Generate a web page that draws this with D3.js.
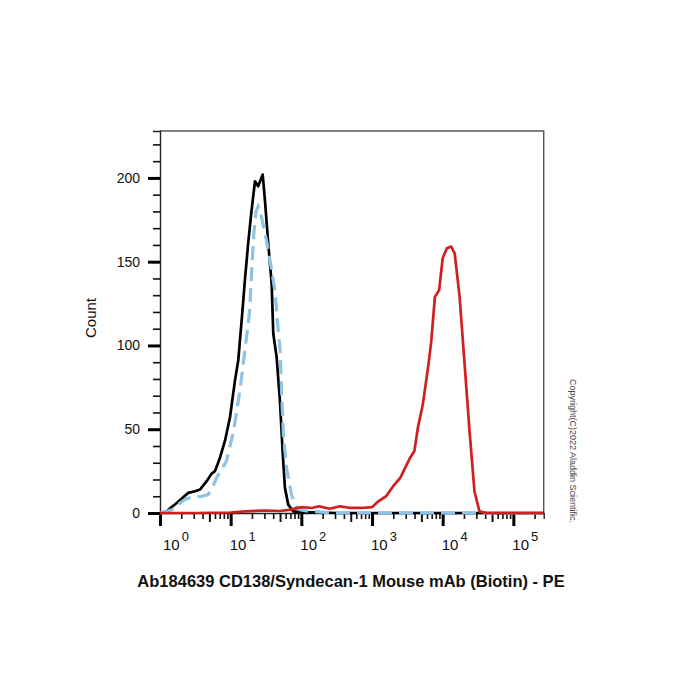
<!DOCTYPE html>
<html lang="en">
<head>
<meta charset="UTF-8">
<title>CD138 flow histogram</title>
<style>
    body { margin: 0; background: #ffffff; }
    svg text { font-family: "Liberation Sans", Arial, sans-serif; fill: #111; }
</style>
</head>
<body>
<div id="content"></div>
<script src="https://d3js.org/d3.v7.min.js"></script>
<script>
    // histogram readings: [intensity, count]
    var stainedData = [
        [1, 0], [3.2, 0], [10, 0.3], [16, 1], [32, 1.5], [50, 1.2], [71, 2], [100, 3.5],
        [141, 3], [178, 4], [251, 2.5], [355, 4], [501, 3], [708, 3], [1000, 3.5],
        [1230, 7], [1585, 10], [1995, 16], [2512, 21], [3467, 33], [3981, 37], [4467, 51],
        [5248, 65], [6310, 89], [6918, 103], [7762, 129], [8913, 133], [10000, 152],
        [11482, 158], [13183, 159], [14791, 155], [17378, 129], [20417, 89], [23988, 49],
        [28184, 13], [33113, 1], [41687, 0], [100000, 0], [269000, 0]
    ];
    var isotypeData = [
        [1, 0], [1.24, 1], [1.72, 6], [2.51, 12], [3.13, 13], [3.68, 14], [4.57, 19],
        [5.38, 23.5], [6.0, 25], [7.06, 33], [8.3, 43], [9.77, 57], [11.5, 79], [12.8, 91],
        [14.3, 115], [15.1, 127], [15.9, 139], [17.7, 161], [19.8, 181], [22.1, 198],
        [24.5, 195], [28.4, 202], [30.5, 187], [34.0, 161], [38.0, 137], [40.1, 107],
        [44.7, 93], [49.8, 67], [54.3, 37], [58.6, 15], [65.3, 5], [76.7, 1], [95.5, 0.5],
        [200, 0.3], [316, 0], [269000, 0]
    ];
    var blankData = [
        [1, 0], [1.26, 1], [1.48, 2], [1.78, 5], [2.24, 8], [2.82, 9.5], [3.98, 10],
        [4.79, 11], [5.62, 16], [6.31, 21], [8.71, 31], [11.0, 49], [13.5, 73], [17.0, 107],
        [18.6, 121], [20.0, 148], [21.4, 168], [22.9, 180], [24.5, 183], [26.3, 180],
        [29.5, 170], [33.1, 160], [38.0, 145], [42.7, 131], [45.7, 115], [50.1, 97],
        [52.5, 73], [55.6, 47], [61.7, 27], [72.4, 11], [85.1, 4], [95.5, 2], [126, 1],
        [200, 0.5], [316, 0], [269000, 0]
    ];

    var decades = [1, 10, 100, 1000, 10000, 100000];
    var decadeExponents = ["0", "1", "2", "3", "4", "5"];
    var countMajor = [0, 50, 100, 150, 200];
    var countMinor = [10, 20, 30, 40, 60, 70, 80, 90, 110, 120, 130, 140, 160, 170, 180, 190, 210, 220];

    var titleText = "Ab184639 CD138/Syndecan-1 Mouse mAb (Biotin) - PE";
    var yTitle = "Count";
    var copyrightText = "Copyright(C)2022 Aladdin Scientific.";

    var width = 700, height = 700;
    var plotLeft = 160, plotRight = 543.7, plotTop = 131, plotBottom = 513;

    var svg = d3.select("#content")
        .append("svg")
        .attr("width", width)
        .attr("height", height)
        .style("background-color", "#ffffff");

    var x = d3.scaleLog().domain([1, 269000]).range([plotLeft, plotRight]);
    var y = d3.scaleLinear().domain([0, 228]).range([plotBottom, plotTop]);

    // frame
    svg.append("path")
        .attr("d", "M" + plotLeft + "," + plotTop + "H" + plotRight + "V" + plotBottom)
        .attr("fill", "none")
        .attr("stroke", "#555")
        .attr("stroke-width", 1.4);

    // y axis: minor then major
    var yMinorG = svg.append("g")
        .attr("transform", "translate(" + plotLeft + ",0)")
        .call(d3.axisLeft(y).tickValues(countMinor).tickSize(7).tickFormat(""));
    yMinorG.selectAll(".tick line").attr("stroke", "#111").attr("stroke-width", 1.6);
    yMinorG.select(".domain").attr("stroke", "#222").attr("stroke-width", 1.4);

    var yMajorG = svg.append("g")
        .attr("transform", "translate(" + plotLeft + ",0)")
        .call(d3.axisLeft(y).tickValues(countMajor).tickSize(12).tickPadding(8));
    yMajorG.select(".domain").remove();
    yMajorG.selectAll(".tick line").attr("stroke", "#000").attr("stroke-width", 3);
    yMajorG.selectAll(".tick text").style("font-size", "14px").attr("fill", "#111");

    // x axis ticks
    var allTicks = x.ticks();
    var mantissa = function (d) {
        return Math.round(d / Math.pow(10, Math.floor(Math.log10(d) + 1e-9)));
    };
    var minorTicks = allTicks.filter(function (d) { return mantissa(d) !== 1 && mantissa(d) !== 5; });
    var fiveTicks = allTicks.filter(function (d) { return mantissa(d) === 5; });

    var xMinorG = svg.append("g")
        .attr("transform", "translate(0," + plotBottom + ")")
        .call(d3.axisBottom(x).tickValues(minorTicks).tickSize(6).tickFormat(""));
    xMinorG.selectAll(".tick line").attr("stroke", "#111").attr("stroke-width", 1.6);
    xMinorG.select(".domain").attr("stroke", "#222").attr("stroke-width", 1.4);

    var xFiveG = svg.append("g")
        .attr("transform", "translate(0," + plotBottom + ")")
        .call(d3.axisBottom(x).tickValues(fiveTicks).tickSize(9).tickFormat(""));
    xFiveG.select(".domain").remove();
    xFiveG.selectAll(".tick line").attr("stroke", "#111").attr("stroke-width", 2);

    var xMajorG = svg.append("g")
        .attr("transform", "translate(0," + plotBottom + ")")
        .call(d3.axisBottom(x).tickValues(decades).tickSize(13).tickFormat(""));
    xMajorG.select(".domain").remove();
    xMajorG.selectAll(".tick line").attr("stroke", "#000").attr("stroke-width", 3);

    // decade labels with superscripts
    var labels = svg.append("g").selectAll("text")
        .data(decades)
        .enter()
        .append("text")
        .attr("x", function (d) { return Math.max(x(d) + 12, 176); })
        .attr("y", 550)
        .attr("text-anchor", "middle")
        .style("font-size", "15px");
    labels.append("tspan").text("10");
    labels.append("tspan")
        .attr("dx", 2)
        .attr("dy", -9)
        .style("font-size", "13px")
        .text(function (d, i) { return decadeExponents[i]; });

    // histogram lines
    var line = d3.line()
        .x(function (d) { return x(d[0]); })
        .y(function (d) { return y(d[1]); });

    svg.append("path")
        .datum(isotypeData)
        .attr("d", line)
        .attr("fill", "none")
        .attr("stroke", "#000")
        .attr("stroke-width", 2.7)
        .attr("stroke-linejoin", "round");

    svg.append("path")
        .datum(blankData)
        .attr("d", line)
        .attr("fill", "none")
        .attr("stroke", "#8ec3e6")
        .attr("stroke-width", 3.2)
        .attr("stroke-dasharray", "14,7");

    svg.append("path")
        .datum(stainedData)
        .attr("d", line)
        .attr("fill", "none")
        .attr("stroke", "#cf1f1f")
        .attr("stroke-width", 2.7)
        .attr("stroke-linejoin", "round");

    // texts
    svg.append("text")
        .attr("x", 351)
        .attr("y", 587)
        .attr("text-anchor", "middle")
        .style("font-size", "16.5px")
        .style("font-weight", "bold")
        .text(titleText);

    svg.append("text")
        .attr("transform", "translate(96,318) rotate(-90)")
        .attr("text-anchor", "middle")
        .style("font-size", "15px")
        .text(yTitle);

    svg.append("text")
        .attr("transform", "translate(570,451) rotate(90)")
        .attr("text-anchor", "middle")
        .style("font-size", "9px")
        .style("fill", "#444")
        .text(copyrightText);
</script>
</body>
</html>
